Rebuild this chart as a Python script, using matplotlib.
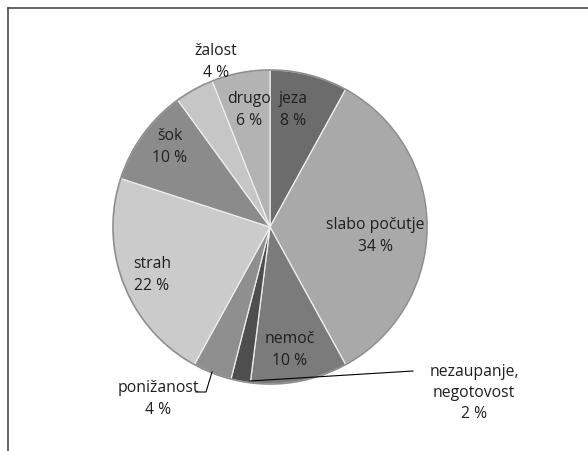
import matplotlib.pyplot as plt
from matplotlib.lines import Line2D

# chart data
labels = ["jeza", "slabo počutje", "nemoč", "nezaupanje,\nnegotovost", "ponižanost",
          "strah", "šok", "žalost", "drugo"]
shares = [8, 34, 10, 2, 4, 22, 10, 4, 6]
colors = ["#6c6c6c", "#a9a9a9", "#7b7b7b", "#4e4e4e", "#8f8f8f",
          "#cbcbcb", "#8b8b8b", "#c6c6c6", "#b3b3b3"]

# label positions in pixels (x from left, y from top)
label_pos = [(293, 110), (375, 236), (290, 350), (474, 393), (158, 399),
             (152, 275), (170, 147), (216, 62), (249, 110)]

W, H = 588, 452
fig = plt.figure(figsize=(W / 100, H / 100), dpi=100)
ax = fig.add_axes([0, 0, 1, 1])

cx, cy, r = 270, H - 228, 157
wedges, _ = ax.pie(shares, colors=colors, startangle=90, counterclock=False,
                   center=(cx, cy), radius=r, frame=True,
                   wedgeprops=dict(edgecolor="#eeeeee", linewidth=0.9))
# soft outer rim
ax.add_patch(plt.Circle((cx, cy), r, fill=False, edgecolor="#8e8e8e", linewidth=1.2))

ax.set_xlim(0, W)
ax.set_ylim(0, H)
ax.set_aspect("equal")
ax.axis("off")

font = ["Open Sans", "DejaVu Sans"]
for lab, val, (x, y) in zip(labels, shares, label_pos):
    ax.text(x, H - y, f"{lab}\n{val} %", ha="center", va="center", fontsize=11.3,
            color="#202020", family=font, linespacing=1.45)

# leader lines
ax.add_line(Line2D([250, 413], [H - 382, H - 372], color="black", linewidth=0.8))
ax.add_line(Line2D([196, 206, 212], [H - 393, H - 393, H - 373], color="black", linewidth=0.8))

# chart frame (top and left visible)
ax.add_line(Line2D([7.5, W], [H - 9, H - 9], color="#4a4a4a", linewidth=1.2))
ax.add_line(Line2D([7.5, 7.5], [H - 9, 0], color="#4a4a4a", linewidth=1.2))

fig.savefig("out.png", dpi=100)
